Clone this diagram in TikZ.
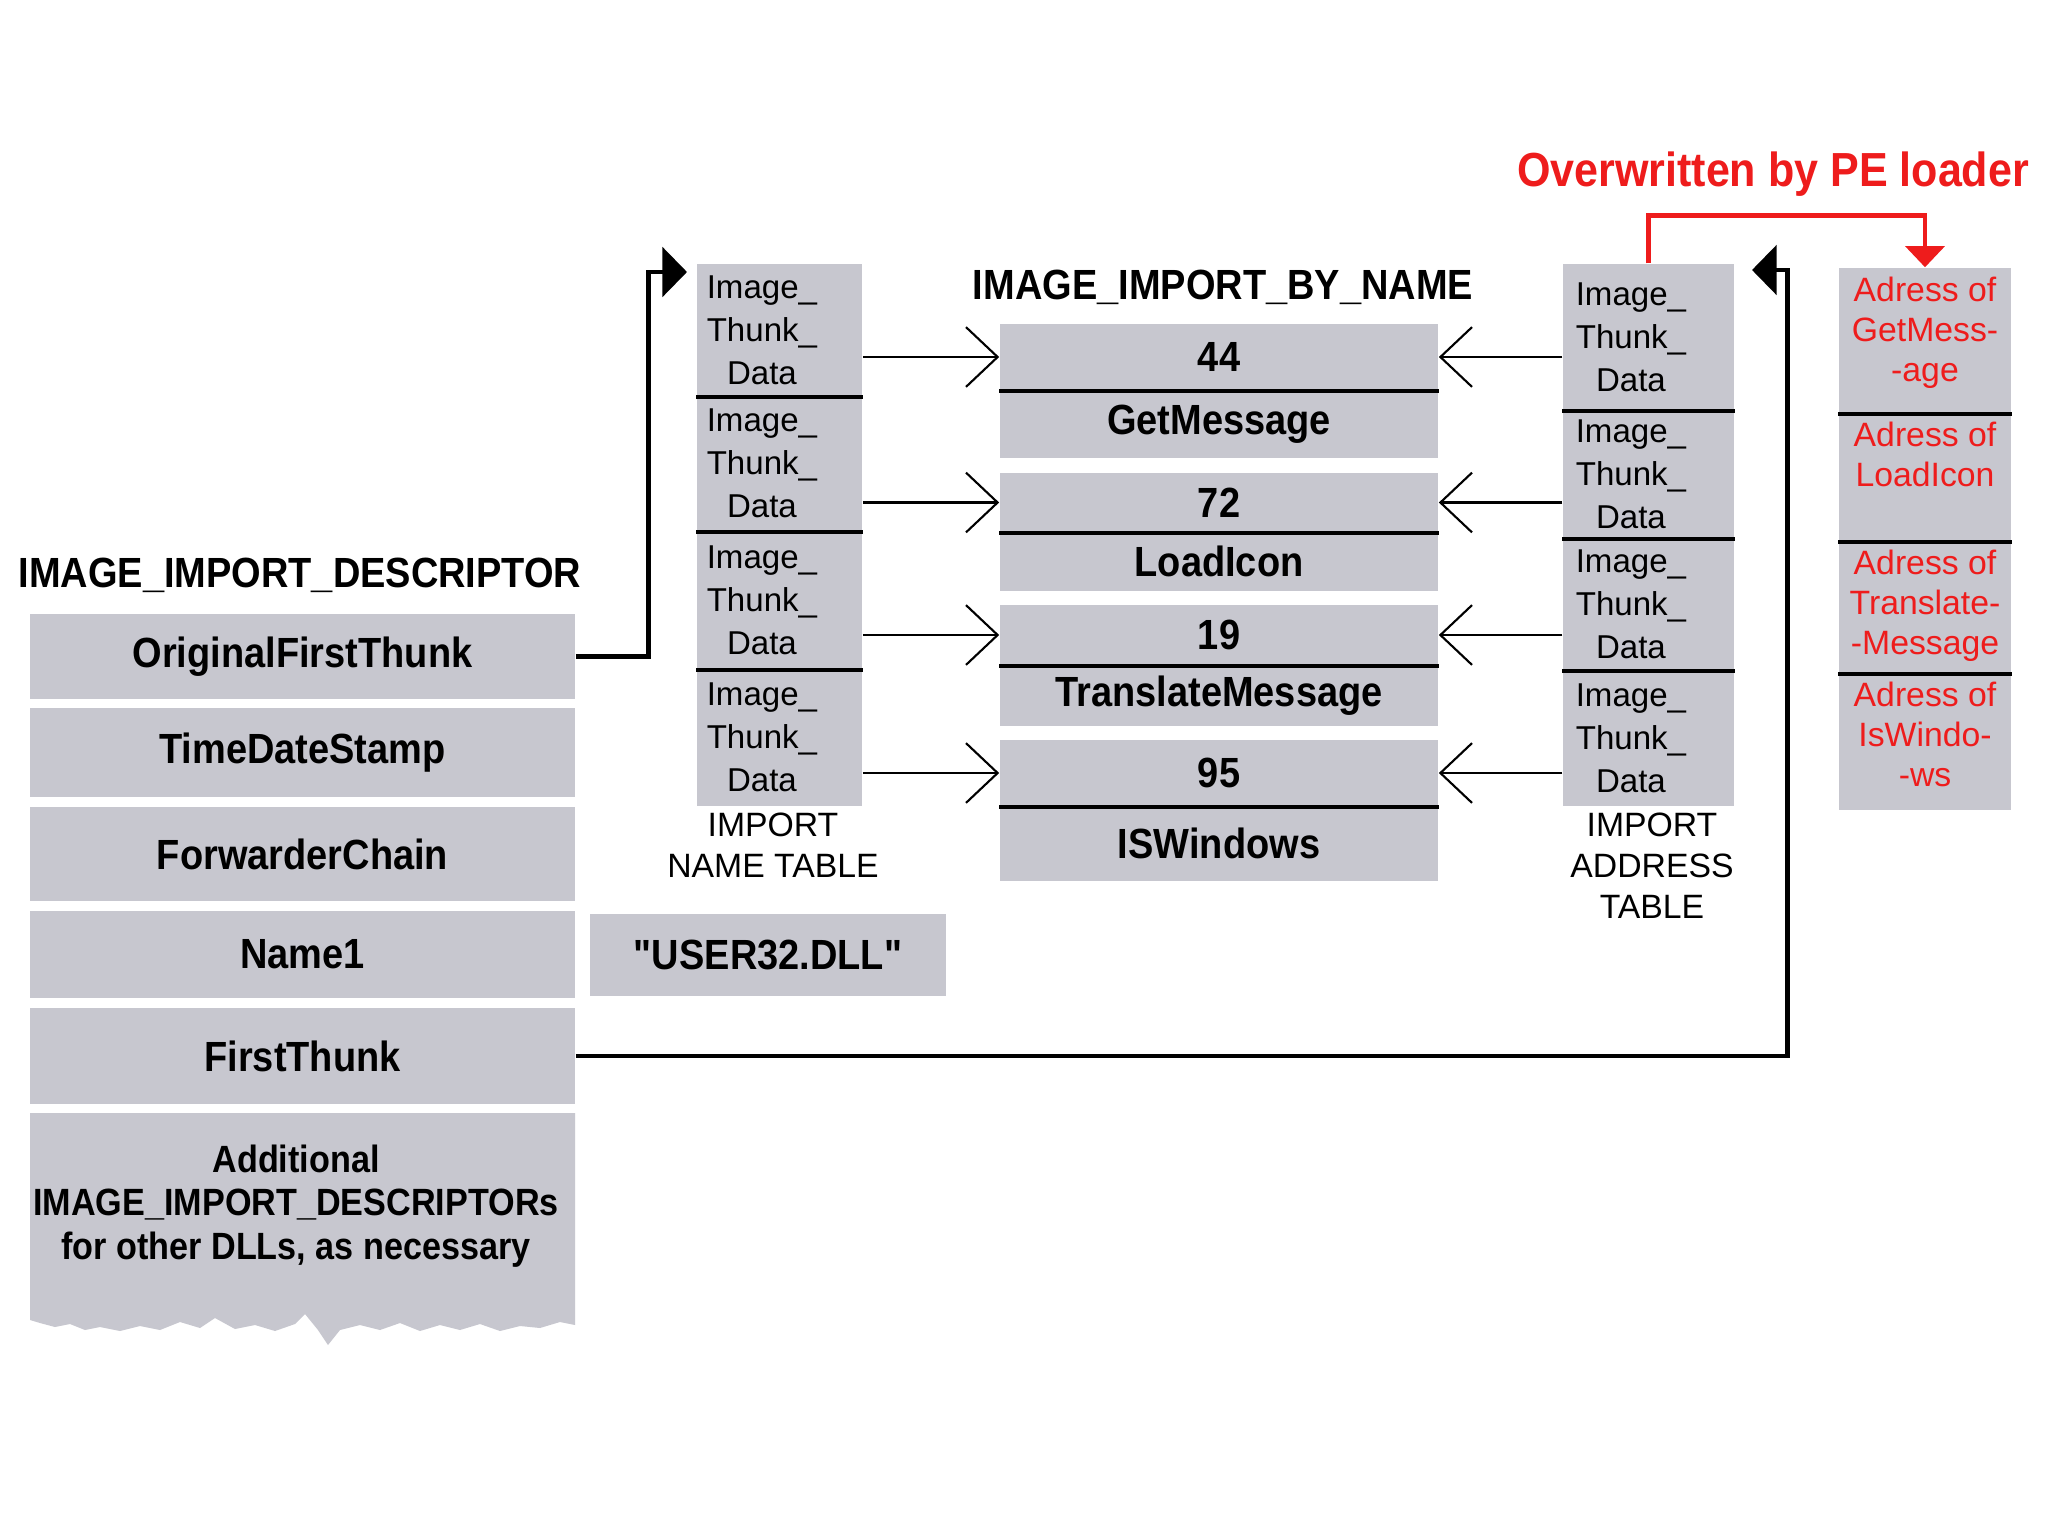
\documentclass[tikz,border=0pt]{standalone}
\usepackage{fontspec}
\setmainfont{Liberation Sans}[Ligatures=TeXOff, BoldFeatures={FakeStretch=0.9}]
\usetikzlibrary{arrows.meta, positioning}
\definecolor{boxgray}{HTML}{C7C7CF}
\definecolor{loaderred}{HTML}{EE1C1C}

\begin{document}
\begin{tikzpicture}[
    x=0.01cm, y=-0.01cm,
    desc/.style={fill=boxgray, minimum width=5.45cm, inner sep=0pt, font=\bfseries\fontsize{12}{14}\selectfont},
    thunk/.style={fill=boxgray, inner sep=0pt},
    thunktext/.style={anchor=center, xshift=-5pt, inner sep=0pt, align=center, font=\fontsize{9.4}{12.2}\selectfont},
    byname/.style={fill=boxgray, minimum width=4.38cm, inner sep=0pt, font=\bfseries\fontsize{12}{14}\selectfont},
    adrcell/.style={fill=boxgray, minimum width=1.72cm, inner sep=0pt},
    adrtext/.style={anchor=north, inner sep=2.5pt, align=center, text=loaderred, font=\fontsize{9.6}{11.4}\selectfont},
    heading/.style={font=\bfseries\fontsize{12}{14}\selectfont},
    tablabel/.style={align=center, font=\fontsize{9.6}{11.7}\selectfont},
    divider/.style={line width=1.1pt},
    ptr/.style={line width=1.4pt, -{Triangle[length=7pt, width=14pt]}},
    link/.style={line width=0.6pt, -{Straight Barb[length=9pt, width=17pt]}},
    redptr/.style={line width=1.4pt, draw=loaderred, -{Triangle[length=6pt, width=11pt]}},
]
    \fill[white] (0,0) rectangle (2048,1536);

    % Titles
    \node[heading] (desctitle) at (300,575) {IMAGE\_IMPORT\_DESCRIPTOR};
    \node[heading] (bntitle) at (1223,287) {IMAGE\_IMPORT\_BY\_NAME};
    \node[heading, text=loaderred, font=\bfseries\fontsize{13.6}{15}\selectfont] (ovtitle) at (1773,174) {Overwritten by PE loader};

    % IMAGE_IMPORT_DESCRIPTOR fields
    \node[desc, minimum height=0.85cm] (oft) at (302.5,656.5) {OriginalFirstThunk};
    \node[desc, minimum height=0.89cm] (tds) at (302.5,752.5) {TimeDateStamp};
    \node[desc, minimum height=0.94cm] (fwd) at (302.5,854) {ForwarderChain};
    \node[desc, minimum height=0.87cm] (name) at (302.5,954.5) {Name1};
    \node[desc, minimum height=0.96cm] (ft) at (302.5,1056) {FirstThunk};

    % torn descriptor block
    \fill[boxgray] (30,1113) -- (575,1113) -- (575,1325) -- (560,1322) -- (540,1328)
        -- (520,1326) -- (500,1331) -- (480,1324) -- (460,1330) -- (440,1325)
        -- (420,1331) -- (400,1323) -- (380,1330) -- (360,1325) -- (340,1330)
        -- (328,1345) -- (318,1330) -- (305,1314) -- (295,1324) -- (275,1331)
        -- (255,1325) -- (235,1329) -- (215,1318) -- (200,1328) -- (180,1322)
        -- (160,1330) -- (140,1326) -- (120,1331) -- (100,1327) -- (85,1330)
        -- (70,1324) -- (55,1327) -- (40,1323) -- (30,1320) -- cycle;
    \node[desc, fill=none, align=center, font=\bfseries\fontsize{10.8}{12.3}\selectfont] (more) at (296,1206) {Additional\\IMAGE\_IMPORT\_DESCRIPTORs\\for other DLLs, as necessary};

    % DLL name
    \node[desc, minimum width=3.56cm, minimum height=0.82cm] (dll) at (768,955) {"USER32.DLL"};

    % Import name table
    \node[thunk, minimum width=1.65cm, minimum height=1.32cm, label={[thunktext]center:{Image\_\\Thunk\_\\Data}}] (int1) at (779.5,330) {};
    \node[thunk, minimum width=1.65cm, minimum height=1.35cm, label={[thunktext]center:{Image\_\\Thunk\_\\Data}}] (int2) at (779.5,463.5) {};
    \node[thunk, minimum width=1.65cm, minimum height=1.38cm, label={[thunktext]center:{Image\_\\Thunk\_\\Data}}] (int3) at (779.5,600) {};
    \node[thunk, minimum width=1.65cm, minimum height=1.37cm, label={[thunktext]center:{Image\_\\Thunk\_\\Data}}] (int4) at (779.5,737.5) {};
    \node[tablabel] (intlabel) at (773,845) {IMPORT\\NAME TABLE};

    % Import address table
    \node[thunk, minimum width=1.71cm, minimum height=1.46cm, label={[thunktext]center:{Image\_\\Thunk\_\\Data}}] (iat1) at (1648.5,337) {};
    \node[thunk, minimum width=1.71cm, minimum height=1.28cm, label={[thunktext]center:{Image\_\\Thunk\_\\Data}}] (iat2) at (1648.5,474) {};
    \node[thunk, minimum width=1.71cm, minimum height=1.32cm, label={[thunktext]center:{Image\_\\Thunk\_\\Data}}] (iat3) at (1648.5,604) {};
    \node[thunk, minimum width=1.71cm, minimum height=1.36cm, label={[thunktext]center:{Image\_\\Thunk\_\\Data}}] (iat4) at (1648.5,738) {};
    \node[tablabel] (iatlabel) at (1652,866) {IMPORT\\ADDRESS\\TABLE};

    % IMAGE_IMPORT_BY_NAME entries
    \node[byname, minimum height=0.66cm] (n1) at (1219,357) {44};
    \node[byname, minimum height=0.68cm] (m1) at (1219,424) {GetMessage};
    \node[byname, minimum height=0.59cm] (n2) at (1219,502.5) {72};
    \node[byname, minimum height=0.59cm] (m2) at (1219,561.5) {LoadIcon};
    \node[byname, minimum height=0.60cm] (n3) at (1219,635) {19};
    \node[byname, minimum height=0.61cm] (m3) at (1219,695.5) {TranslateMessage};
    \node[byname, minimum height=0.66cm] (n4) at (1219,773) {95};
    \node[byname, minimum height=0.75cm] (m4) at (1219,843.5) {ISWindows};

    % Resolved addresses
    \node[adrcell, minimum height=1.45cm, label={[adrtext]north:{Adress of\\GetMess-\\-age}}] (adr1) at (1925,340.5) {};
    \node[adrcell, minimum height=1.28cm, label={[adrtext]north:{Adress of\\LoadIcon}}] (adr2) at (1925,477) {};
    \node[adrcell, minimum height=1.32cm, label={[adrtext]north:{Adress of\\Translate-\\-Message}}] (adr3) at (1925,607) {};
    \node[adrcell, minimum height=1.37cm, label={[adrtext]north:{Adress of\\IsWindo-\\-ws}}] (adr4) at (1925,741.5) {};

    % Dividers
    \foreach \i in {1,2,3} {
        \draw[divider] (int\i.south west) -- (int\i.south east);
        \draw[divider] (iat\i.south west) -- (iat\i.south east);
        \draw[divider] (adr\i.south west) -- (adr\i.south east);
    }
    \foreach \i in {1,...,4}
        \draw[divider] (n\i.south west) -- (n\i.south east);

    % Thunks to hint/name entries
    \foreach \i in {1,...,4} {
        \draw[link] (int\i.east |- n\i.west) -- (n\i.west);
        \draw[link] (iat\i.west |- n\i.east) -- (n\i.east);
    }

    % Descriptor pointers
    \coordinate (inttip) at (687,272);
    \coordinate (iattip) at (1752,270);
    \draw[ptr] (oft.east) -- ++(73,0) |- (inttip);
    \draw[ptr] (ft.east) -- ++(1212,0) |- (iattip);

    % Loader overwrite
    \draw[redptr] (iat1.north) -- ++(0,-48) -| (adr1.north);

\end{tikzpicture}
\end{document}
